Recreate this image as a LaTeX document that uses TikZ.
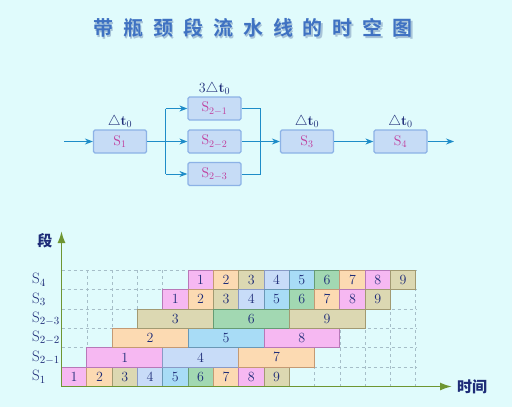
\documentclass[tikz,border=0pt]{standalone}
\usepackage{fontspec}
\newfontfamily\cjk{Noto Sans CJK SC}
\newfontfamily\cjktitle[LetterSpace=50]{Noto Sans CJK SC Bold}
\usetikzlibrary{arrows.meta}
\definecolor{bg}{HTML}{E0FBFC}
\definecolor{navy}{HTML}{1E2C78}
\definecolor{mag}{HTML}{C03C9C}
\definecolor{flow}{HTML}{1E8CC8}
\definecolor{boxfill}{HTML}{C6DCF6}
\definecolor{boxdraw}{HTML}{8CB2E6}
\definecolor{axis}{HTML}{6E9632}
\definecolor{gridc}{HTML}{A6BEC8}
\definecolor{titlec}{HTML}{3F72C2}
\definecolor{shadowc}{HTML}{A8C4D8}
\definecolor{pinkF}{HTML}{F6B8F2}\definecolor{pinkD}{HTML}{B878B8}
\definecolor{peachF}{HTML}{FCDAB2}\definecolor{peachD}{HTML}{C49A74}
\definecolor{khakiF}{HTML}{DCD8B2}\definecolor{khakiD}{HTML}{A29A72}
\definecolor{lblueF}{HTML}{C8DCF8}\definecolor{lblueD}{HTML}{8A9AC6}
\definecolor{skyF}{HTML}{A8DCF6}\definecolor{skyD}{HTML}{6A98B6}
\definecolor{greenF}{HTML}{A2D8B2}\definecolor{greenD}{HTML}{669C74}
\colorlet{f1}{pinkF}\colorlet{d1}{pinkD}
\colorlet{f2}{peachF}\colorlet{d2}{peachD}
\colorlet{f3}{khakiF}\colorlet{d3}{khakiD}
\colorlet{f4}{lblueF}\colorlet{d4}{lblueD}
\colorlet{f5}{skyF}\colorlet{d5}{skyD}
\colorlet{f6}{greenF}\colorlet{d6}{greenD}
\colorlet{f7}{peachF}\colorlet{d7}{peachD}
\colorlet{f8}{pinkF}\colorlet{d8}{pinkD}
\colorlet{f9}{khakiF}\colorlet{d9}{khakiD}
\def\xo{61.5}\def\cw{25.3}\def\yb{386.5}\def\rh{19.4}
\newcommand\taskcell[4]{%
  \pgfmathsetmacro\cx{\xo+(#2+#3/2)*\cw}%
  \pgfmathsetmacro\cy{\yb-(#1+0.5)*\rh}%
  \pgfmathsetmacro\wdd{#3*\cw}%
  \node[cellbox, fill=f#4, draw=d#4, minimum width=\wdd pt] (c#1-#4) at (\cx,\cy) {#4};%
}
\begin{document}
\begin{tikzpicture}[x=1pt,y=-1pt,
  stagebox/.style={draw=boxdraw, fill=boxfill, line width=1.2pt, rounded corners=1.5pt,
    minimum width=53pt, minimum height=23pt, inner sep=0pt, text=mag,
    font=\fontsize{14}{16}\selectfont},
  flowline/.style={draw=flow, line width=1pt},
  flowarr/.style={flowline, -{Stealth[length=8pt,width=6pt]}},
  dtlab/.style={text=navy, font=\fontsize{14}{16}\selectfont, inner sep=0pt},
  cellbox/.style={line width=0.8pt, minimum height=\rh pt, inner sep=0pt, text=navy,
    font=\fontsize{14}{16}\selectfont},
  rowlab/.style={anchor=west, text=navy, inner sep=0pt, font=\fontsize{15}{17}\selectfont},
  axisline/.style={draw=axis, line width=1.8pt, -{Latex[length=12pt,width=8pt]}},
  axlab/.style={text=navy, inner sep=0pt, font=\cjk\bfseries\fontsize{15}{17}\selectfont}
]
\fill[bg] (0,0) rectangle (512,407);
\useasboundingbox (0,0) rectangle (512,407);

% title
\node[text=shadowc, font=\cjktitle\fontsize{20}{24}\selectfont] (titleshadow) at (254.5,29.5) {带瓶颈段流水线的时空图};
\node[text=titlec, font=\cjktitle\fontsize{20}{24}\selectfont] (title) at (253,28) {带瓶颈段流水线的时空图};

% pipeline
\node[stagebox] (S1) at (120,141.5) {S$_1$};
\node[stagebox] (S21) at (214.5,108.5) {S$_{2-1}$};
\node[stagebox] (S22) at (214.5,141.5) {S$_{2-2}$};
\node[stagebox] (S23) at (214.5,174) {S$_{2-3}$};
\node[stagebox] (S3) at (307,141.5) {S$_3$};
\node[stagebox] (S4) at (400.5,141.5) {S$_4$};

\node[dtlab, anchor=south] (dt1) at (120,128.5) {$\triangle$\textbf{t}$_0$};
\node[dtlab, anchor=south] (dt2) at (214.5,95.5) {3$\triangle$\textbf{t}$_0$};
\node[dtlab, anchor=south] (dt3) at (307,128.5) {$\triangle$\textbf{t}$_0$};
\node[dtlab, anchor=south] (dt4) at (400.5,128.5) {$\triangle$\textbf{t}$_0$};

\coordinate (in) at (64,141.5);
\coordinate (out) at (454,141.5);
\coordinate (bl) at (165.5,141.5);
\coordinate (blt) at (165.5,108.5);
\coordinate (blb) at (165.5,174);
\coordinate (br) at (260.5,141.5);
\coordinate (brt) at (260.5,108.5);
\coordinate (brb) at (260.5,174);

\draw[flowarr] (in) -- (S1);
\draw[flowline] (S1) -- (bl);
\draw[flowline] (blt) -- (blb);
\draw[flowarr] (blt) -- (S21);
\draw[flowarr] (bl) -- (S22);
\draw[flowarr] (blb) -- (S23);
\draw[flowline] (S21.east) -- (brt) -- (brb) -- (S23.east);
\draw[flowline] (S22) -- (br);
\draw[flowarr] (br) -- (S3);
\draw[flowarr] (S3) -- (S4);
\draw[flowarr] (S4) -- (out);

% grid
\foreach \i in {1,...,14} {
  \pgfmathsetmacro\gx{\xo+\i*\cw}
  \draw[gridc, dashed, line width=0.5pt] (\gx,\yb) -- (\gx,{\yb-6*\rh});
}
\foreach \j in {1,...,6} {
  \pgfmathsetmacro\gy{\yb-\j*\rh}
  \draw[gridc, dashed, line width=0.5pt] (\xo,\gy) -- ({\xo+14*\cw},\gy);
}

% cells
\foreach \k in {1,...,9} {
  \pgfmathtruncatemacro\cc{\k-1}
  \taskcell{0}{\cc}{1}{\k}
  \pgfmathtruncatemacro\cc{\k+3}
  \taskcell{4}{\cc}{1}{\k}
  \pgfmathtruncatemacro\cc{\k+4}
  \taskcell{5}{\cc}{1}{\k}
}
\taskcell{1}{1}{3}{1}\taskcell{1}{4}{3}{4}\taskcell{1}{7}{3}{7}
\taskcell{2}{2}{3}{2}\taskcell{2}{5}{3}{5}\taskcell{2}{8}{3}{8}
\taskcell{3}{3}{3}{3}\taskcell{3}{6}{3}{6}\taskcell{3}{9}{3}{9}

% axes
\coordinate (origin) at (\xo,\yb);
\coordinate (ytip) at (\xo,231);
\coordinate (xtip) at (452,\yb);
\draw[axisline] (origin) -- (ytip);
\draw[axisline] (origin) -- (xtip);
\node[axlab] (yl) at (45,241) {段};
\node[axlab] (xl) at (472,386.5) {时间};

% row labels
\node[rowlab] (r0) at (32,{\yb-0.5*\rh}) {S$_1$};
\node[rowlab] (r1) at (32,{\yb-1.5*\rh}) {S$_{2-1}$};
\node[rowlab] (r2) at (32,{\yb-2.5*\rh}) {S$_{2-2}$};
\node[rowlab] (r3) at (32,{\yb-3.5*\rh}) {S$_{2-3}$};
\node[rowlab] (r4) at (32,{\yb-4.5*\rh}) {S$_3$};
\node[rowlab] (r5) at (32,{\yb-5.5*\rh}) {S$_4$};
\end{tikzpicture}
\end{document}
